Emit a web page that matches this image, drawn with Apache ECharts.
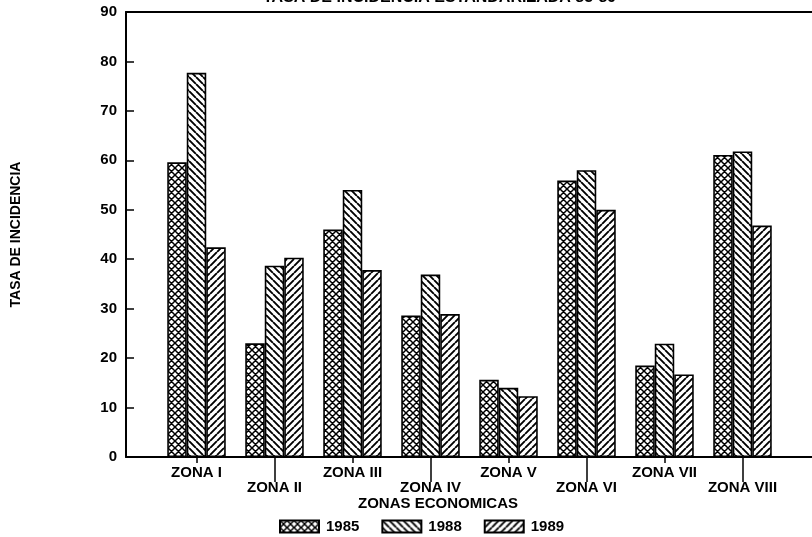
<!DOCTYPE html>
<html>
<head>
<meta charset="utf-8">
<script src="https://cdn.jsdelivr.net/npm/echarts@6/dist/echarts.min.js"></script>
<style>html,body{margin:0;padding:0;background:#fff;}#c{width:812px;height:537px;}</style>
</head>
<body>
<div id="c"></div>
<script>
const categories = ['ZONA I','ZONA II','ZONA III','ZONA IV','ZONA V','ZONA VI','ZONA VII','ZONA VIII'];
const seriesNames = ['1985','1988','1989'];
const v1985 = [59.6, 23.0, 46.0, 28.6, 15.6, 55.9, 18.5, 61.1];
const v1988 = [77.7, 38.7, 54.0, 36.9, 14.0, 58.0, 22.9, 61.8];
const v1989 = [42.4, 40.3, 37.8, 28.9, 12.3, 50.0, 16.7, 46.8];
const yMin = 0, yMax = 90, yStep = 10;
const titleText = 'TASA DE INCIDENCIA ESTANDARIZADA 85-89';
const xName = 'ZONAS ECONOMICAS';
const yName = 'TASA DE INCIDENCIA';

function hatch(kind) {
  const s = kind === 'cross' ? 7 : 7;
  const c = document.createElement('canvas');
  c.width = s; c.height = s;
  const g = c.getContext('2d');
  g.fillStyle = '#fff'; g.fillRect(0, 0, s, s);
  g.strokeStyle = '#000';
  g.lineWidth = kind === 'cross' ? 1.5 : 1.9;
  g.beginPath();
  for (let k = -1; k <= 1; k++) {
    const x0 = k * s;
    if (kind === 'fwd' || kind === 'cross') { g.moveTo(x0, s); g.lineTo(x0 + s, 0); }
    if (kind === 'back' || kind === 'cross') { g.moveTo(x0, 0); g.lineTo(x0 + s, s); }
  }
  g.stroke();
  return { image: c, repeat: 'repeat' };
}

const font = 'Liberation Sans';
const txt = { color: '#000', fontFamily: font, fontWeight: 'bold', fontSize: 15 };
const chart = echarts.init(document.getElementById('c'), null, { renderer: 'canvas' });

function barSeries(name, data, fill) {
  return {
    name, type: 'bar', data, xAxisIndex: 2, yAxisIndex: 1,
    barGap: '0%', barCategoryGap: '25%',
    itemStyle: { color: fill, borderColor: '#000', borderWidth: 1.6 },
    emphasis: { disabled: true }, animation: false
  };
}

chart.setOption({
  backgroundColor: '#fff',
  animation: false,
  title: [
    { text: titleText, left: 263, top: -10, padding: 0, textStyle: Object.assign({}, txt, { fontSize: 16 }) },
    { text: xName, left: 358, top: 496, padding: 0, textStyle: Object.assign({}, txt) }
  ],
  legend: {
    data: seriesNames, left: 279, top: 519, padding: 0,
    itemWidth: 39, itemHeight: 12, itemGap: 22, icon: 'rect',
    textStyle: Object.assign({}, txt, { padding: [0, 0, 0, 2] }),
    selectedMode: false
  },
  grid: [
    { left: 126, right: -5, top: 12, bottom: 80, containLabel: false, outerBoundsMode: 'none' },
    { left: 157.5, right: 30.5, top: 12, bottom: 80, containLabel: false, outerBoundsMode: 'none' }
  ],
  xAxis: [
    { gridIndex: 0, type: 'value', position: 'bottom', min: 0, max: 1,
      axisLine: { show: true, lineStyle: { color: '#000', width: 2 } },
      axisTick: { show: false }, axisLabel: { show: false }, splitLine: { show: false } },
    { gridIndex: 0, type: 'value', position: 'top', min: 0, max: 1,
      axisLine: { show: true, lineStyle: { color: '#000', width: 2 } },
      axisTick: { show: false }, axisLabel: { show: false }, splitLine: { show: false } },
    { gridIndex: 1, type: 'category', position: 'bottom', data: categories,
      axisLine: { show: false },
      axisTick: { show: true, alignWithLabel: true, length: 6, interval: (i) => i % 2 === 0,
        lineStyle: { color: '#000', width: 1.5 } },
      axisLabel: Object.assign({}, txt, { interval: (i) => i % 2 === 0, margin: 8 }),
      splitLine: { show: false } },
    { gridIndex: 1, type: 'category', position: 'bottom', offset: 0, data: categories,
      axisLine: { show: false },
      axisTick: { show: true, alignWithLabel: true, length: 25, interval: (i) => i % 2 === 1,
        lineStyle: { color: '#000', width: 1.5 } },
      axisLabel: Object.assign({}, txt, { interval: (i) => i % 2 === 1, margin: 23 }),
      splitLine: { show: false } }
  ],
  yAxis: [
    { gridIndex: 0, type: 'value', min: yMin, max: yMax, interval: yStep,
      name: yName, nameLocation: 'middle', nameRotate: 90, nameGap: 103,
      nameTextStyle: Object.assign({}, txt, { fontSize: 14 }),
      axisLine: { show: true, lineStyle: { color: '#000', width: 2 } },
      axisTick: { show: true, inside: true, length: 8, lineStyle: { color: '#000', width: 1.5 } },
      axisLabel: Object.assign({}, txt, { margin: 9 }),
      splitLine: { show: false } },
    { gridIndex: 1, type: 'value', min: yMin, max: yMax, interval: yStep, show: false,
      splitLine: { show: false } }
  ],
  series: [
    barSeries(seriesNames[0], v1985, hatch('cross')),
    barSeries(seriesNames[1], v1988, hatch('back')),
    barSeries(seriesNames[2], v1989, hatch('fwd'))
  ]
});
</script>
</body>
</html>
